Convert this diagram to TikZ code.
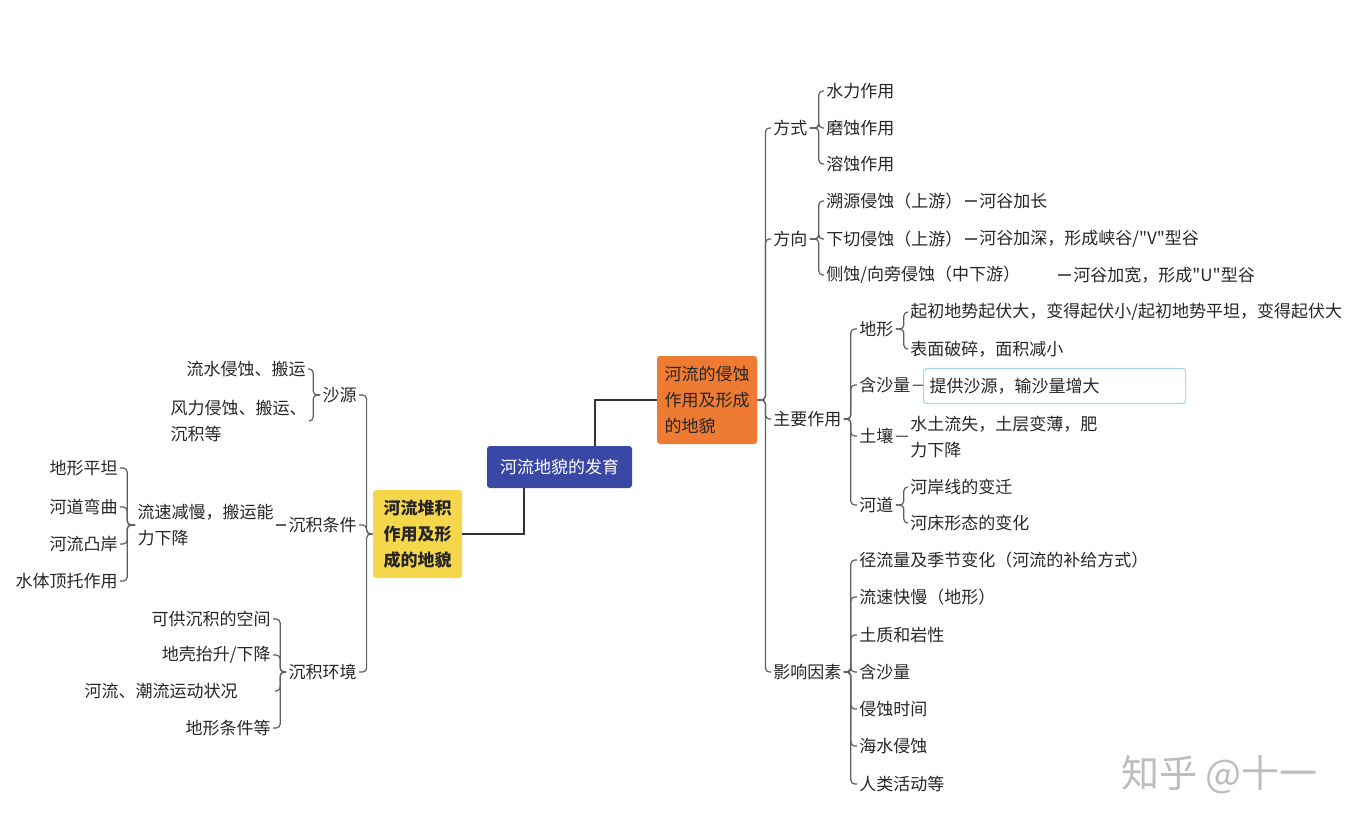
\documentclass[tikz,border=0pt]{standalone}
\usepackage{fontspec}
\newfontfamily\cnfont{Noto Sans CJK SC}
\definecolor{rootblue}{RGB}{58,72,165}
\definecolor{erodeorange}{RGB}{239,122,49}
\definecolor{depoyellow}{RGB}{246,214,75}
\definecolor{linegray}{RGB}{94,94,94}
\definecolor{trunkgray}{RGB}{51,51,51}
\definecolor{ink}{RGB}{38,38,38}
\definecolor{boxblue}{RGB}{169,213,238}
\definecolor{markgray}{RGB}{189,189,189}
\begin{document}
\begin{tikzpicture}[x=0.5pt,y=-0.5pt,
    font=\cnfont\fontsize{8.5pt}{13pt}\selectfont,
    topic/.style={rounded corners=1.5pt,inner sep=0pt,align=left,text=ink},
    link/.style={draw=linegray,line width=0.6pt,rounded corners=2pt},
    trunk/.style={draw=trunkgray,line width=1pt}]

      \useasboundingbox (0,0) rectangle (1372,832);

      % centre and the two main topics
      \node[topic,fill=rootblue,text=white,align=center,minimum width=72.5pt,minimum height=21pt] (root) at (559.5,467) {河流地貌的发育};
      \node[topic,fill=erodeorange,minimum width=50pt,minimum height=44pt] (erode) at (707,400) {河流的侵蚀\\作用及形成\\的地貌};
      \node[topic,fill=depoyellow,minimum width=44.5pt,minimum height=44pt,font=\cnfont\fontsize{8.5pt}{13pt}\selectfont\bfseries] (depo) at (417.5,534) {河流堆积\\作用及形\\成的地貌};

      % right side
      \begin{scope}[every node/.style={anchor=west,inner sep=1pt,text=ink}]
        \node (fs)  at (771,128) {方式};
        \node (fx)  at (771,239) {方向};
        \node (zy)  at (771,419) {主要作用};
        \node (yx)  at (771,672) {影响因素};

        \node (sl)  at (824,91)  {水力作用};
        \node (ms)  at (824,128) {磨蚀作用};
        \node (rs)  at (824,164) {溶蚀作用};

        \node (su)  at (824,201) {溯源侵蚀（上游）};
        \node (su2) at (977,201) {河谷加长};
        \node (xq)  at (824,239) {下切侵蚀（上游）};
        \node (xq2) at (977,239) {河谷加深，形成峡谷/"V"型谷};
        \node[text width=114.5pt,align=left] (cs) at (824,275) {侧蚀/向旁侵蚀（中下游）};
        \node (cs2) at (1071,275) {河谷加宽，形成"U"型谷};

        \node (dx)  at (857,329) {地形};
        \node (hs)  at (857,385) {含沙量};
        \node (tr)  at (857,436) {土壤};
        \node (hd)  at (857,505) {河道};

        \node (qc)  at (908,312) {起初地势起伏大，变得起伏小/起初地势平坦，变得起伏大};
        \node (bm)  at (908,349) {表面破碎，面积减小};
        \node[draw=boxblue,line width=0.6pt,rounded corners=1.5pt,inner sep=3pt,
              text width=125pt,align=left,minimum height=17.5pt] (tg) at (923,386) {提供沙源，输沙量增大};
        \node[text width=94pt,align=left] (tr2) at (908,437) {水土流失，土层变薄，肥\\力下降};
        \node (ha)  at (908,487) {河岸线的变迁};
        \node (hc)  at (908,523) {河床形态的变化};

        \node (f1)  at (857,560) {径流量及季节变化（河流的补给方式）};
        \node (f2)  at (857,597) {流速快慢（地形）};
        \node (f3)  at (857,635) {土质和岩性};
        \node (f4)  at (857,672) {含沙量};
        \node (f5)  at (857,709) {侵蚀时间};
        \node (f6)  at (857,746) {海水侵蚀};
        \node (f7)  at (857,784) {人类活动等};
      \end{scope}

      % left side
      \begin{scope}[every node/.style={anchor=east,inner sep=1pt,text=ink}]
        \node (sh)  at (359,395) {沙源};
        \node (tj)  at (359,525) {沉积条件};
        \node (hj)  at (359,672) {沉积环境};

        \node (ls)  at (308,369) {流水侵蚀、搬运};
        \node[text width=68pt,align=left] (fl) at (309,421) {风力侵蚀、搬运、\\沉积等};

        \node[text width=68pt,align=left] (js) at (276,525) {流速减慢，搬运能\\力下降};
        \node (p1)  at (120,468) {地形平坦};
        \node (p2)  at (120,507) {河道弯曲};
        \node (p3)  at (120,544) {河流凸岸};
        \node (p4)  at (120,581) {水体顶托作用};

        \node (e1)  at (273,619) {可供沉积的空间};
        \node (e2)  at (273,655) {地壳抬升/下降};
        \node[text width=94pt,align=left] (e3) at (275,691) {河流、潮流运动状况};
        \node (e4)  at (273,728) {地形条件等};
      \end{scope}

      \node[anchor=west,text=markgray,font=\cnfont\fontsize{19pt}{19pt}\selectfont] (mark) at (1114,775) {知乎 @十一};

      % connectors
      \draw[trunk] ([xshift=-18.5pt]root.north east) |- (erode.west);
      \draw[trunk] ([xshift=18.5pt]root.south west) |- (depo.east);

      \foreach \c in {fs,fx,zy,yx} { \draw[link] (erode.east) -- ++(8,0) |- (\c.west); }
      \foreach \c in {sl,ms,rs} { \draw[link] (fs.east) -- ++(9,0) |- (\c.west); }
      \foreach \c in {su,xq,cs} { \draw[link] (fx.east) -- ++(9,0) |- (\c.west); }
      \foreach \c in {dx,hs,tr,hd} { \draw[link] (zy.east) -- ++(7,0) |- (\c.west); }
      \foreach \c in {qc,bm} { \draw[link] (dx.east) -- ++(8,0) |- (\c.west); }
      \foreach \c in {ha,hc} { \draw[link] (hd.east) -- ++(8,0) |- (\c.west); }
      \foreach \c in {f1,f2,f3,f4,f5,f6,f7} { \draw[link] (yx.east) -- ++(7,0) |- (\c.west); }
      \draw[link] (su) -- (su2);
      \draw[link] (xq) -- (xq2);
      \draw[link] (cs) -- (cs2);
      \draw[link] (hs) -- (tg);
      \draw[link] (tr) -- (tr2);

      \foreach \c in {sh,tj,hj} { \draw[link] (depo.west) -- ++(-6,0) |- (\c.east); }
      \foreach \c in {ls,fl} { \draw[link] (sh.west) -- ++(-7,0) |- (\c.east); }
      \draw[link] (tj) -- (js);
      \foreach \c in {p1,p2,p3,p4} { \draw[link] (js.west) -- ++(-8,0) |- (\c.east); }
      \foreach \c in {e1,e2,e3,e4} { \draw[link] (hj.west) -- ++(-6,0) |- (\c.east); }

    \end{tikzpicture}
\end{document}
